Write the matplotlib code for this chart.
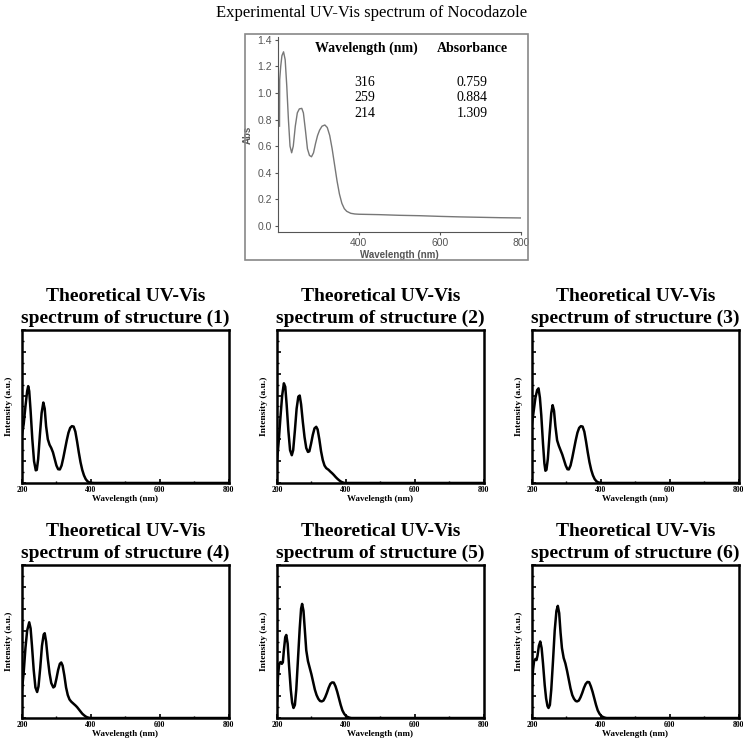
import numpy as np
import matplotlib
matplotlib.use("Agg")
import matplotlib.pyplot as plt
from matplotlib.patches import Rectangle
from matplotlib.ticker import MultipleLocator

plt.rcParams['font.family'] = ['Liberation Serif', 'DejaVu Serif']

# Experimental spectrum
exp_wl = [204, 204.5, 207, 210, 214, 218, 222, 226, 230, 234, 238, 243, 248, 253, 259,
          263, 268, 273, 278, 283, 288, 293, 298, 303, 309, 316, 322, 328, 334, 340,
          346, 352, 358, 364, 370, 380, 390, 400, 450, 500, 550, 600, 650, 700, 750, 800]
exp_abs = [0.75, 1.1, 1.2, 1.28, 1.309, 1.25, 1.05, 0.8, 0.6, 0.55, 0.6, 0.75, 0.85, 0.88, 0.884,
           0.85, 0.72, 0.58, 0.53, 0.52, 0.55, 0.62, 0.68, 0.72, 0.75, 0.759, 0.74, 0.68, 0.58, 0.46,
           0.34, 0.24, 0.17, 0.13, 0.11, 0.095, 0.09, 0.088, 0.085, 0.08, 0.077, 0.072, 0.068, 0.065, 0.062, 0.06]

peak_wl = ["316", "259", "214"]
peak_abs = ["0.759", "0.884", "1.309"]

# Theoretical spectra (arbitrary units)
s1_wl = [200, 205, 210, 215, 218, 221, 225, 230, 235, 240, 243, 247, 252, 257, 262, 266, 270,
         275, 280, 285, 290, 295, 300, 305, 310, 315, 320, 325, 330, 335, 340, 345, 350, 355,
         360, 365, 370, 375, 380, 385, 390, 395, 400, 410, 800]
s1_int = [2.2, 2.7, 3.5, 4.2, 4.43, 4.2, 3.3, 2.0, 1.0, 0.58, 0.6, 1.1, 2.2, 3.2, 3.68, 3.4, 2.6,
          2.0, 1.75, 1.6, 1.4, 1.1, 0.8, 0.63, 0.62, 0.8, 1.15, 1.55, 1.95, 2.3, 2.52, 2.6, 2.58, 2.35,
          1.9, 1.4, 0.95, 0.6, 0.35, 0.18, 0.08, 0.03, 0.01, 0.0, 0.0]

s2_wl = [200, 205, 210, 215, 220, 224, 228, 233, 238, 243, 247, 252, 257, 262, 266, 270, 275,
         280, 285, 290, 294, 299, 304, 309, 314, 318, 323, 328, 333, 338, 343, 350, 355, 360,
         365, 370, 375, 380, 385, 390, 396, 800]
s2_int = [1.0, 1.9, 3.0, 4.0, 4.56, 4.4, 3.6, 2.4, 1.5, 1.27, 1.5, 2.4, 3.4, 3.95, 4.0, 3.6, 2.8,
          2.1, 1.6, 1.42, 1.45, 1.8, 2.2, 2.5, 2.57, 2.45, 2.0, 1.45, 1.05, 0.8, 0.68, 0.6, 0.52, 0.45,
          0.37, 0.28, 0.2, 0.13, 0.07, 0.03, 0.0, 0.0]

s3_wl = [200, 205, 210, 215, 219, 223, 227, 232, 236, 239, 242, 246, 251, 256, 260, 264, 268,
         273, 278, 283, 288, 293, 298, 303, 307, 312, 317, 322, 327, 332, 337, 342, 347, 352,
         357, 362, 367, 372, 377, 382, 387, 392, 398, 405, 800]
s3_int = [2.7, 3.3, 3.9, 4.25, 4.33, 3.9, 3.1, 1.8, 0.9, 0.56, 0.6, 1.1, 2.2, 3.2, 3.56, 3.3, 2.6,
          1.95, 1.7, 1.5, 1.3, 1.05, 0.8, 0.63, 0.62, 0.8, 1.15, 1.55, 1.95, 2.3, 2.52, 2.6, 2.58, 2.35,
          1.9, 1.4, 0.95, 0.6, 0.35, 0.18, 0.08, 0.03, 0.01, 0.0, 0.0]

s4_wl = [200, 205, 210, 215, 221, 225, 229, 234, 239, 244, 248, 253, 258, 263, 266, 270, 275,
         280, 285, 291, 295, 300, 305, 310, 314, 318, 323, 328, 333, 338, 343, 350, 355, 360,
         365, 370, 375, 380, 385, 390, 398, 800]
s4_int = [1.3, 2.1, 3.2, 4.0, 4.38, 4.1, 3.3, 2.2, 1.4, 1.19, 1.45, 2.3, 3.3, 3.82, 3.88, 3.5, 2.7,
          2.05, 1.6, 1.4, 1.45, 1.8, 2.2, 2.48, 2.54, 2.4, 1.95, 1.4, 1.05, 0.85, 0.75, 0.65, 0.58, 0.5,
          0.4, 0.3, 0.2, 0.13, 0.07, 0.03, 0.0, 0.0]

s5_wl = [200, 203, 206, 210, 214, 217, 220, 224, 227, 231, 235, 240, 244, 248, 252, 256, 261,
         266, 270, 273, 277, 281, 285, 290, 295, 300, 305, 310, 315, 320, 325, 330, 335, 340,
         345, 350, 355, 360, 365, 370, 375, 380, 385, 390, 395, 400, 405, 410, 416, 800]
s5_int = [0.8, 1.9, 2.45, 2.56, 2.48, 2.55, 3.1, 3.7, 3.8, 3.4, 2.4, 1.3, 0.7, 0.46, 0.6, 1.3, 2.7,
          4.1, 5.0, 5.22, 4.9, 4.0, 3.1, 2.6, 2.3, 2.0, 1.65, 1.3, 1.05, 0.88, 0.78, 0.76, 0.8, 0.95,
          1.15, 1.38, 1.56, 1.63, 1.62, 1.45, 1.2, 0.9, 0.6, 0.35, 0.2, 0.1, 0.05, 0.02, 0.0, 0.0]

s6_wl = [200, 203, 206, 210, 213, 216, 220, 224, 228, 232, 237, 241, 245, 248, 252, 256, 261,
         266, 271, 275, 279, 283, 287, 292, 297, 302, 307, 312, 317, 322, 327, 331, 336, 341,
         346, 351, 356, 361, 366, 371, 376, 381, 386, 391, 396, 401, 406, 411, 417, 800]
s6_int = [1.45, 2.2, 2.6, 2.7, 2.65, 2.85, 3.3, 3.5, 3.2, 2.5, 1.5, 0.9, 0.55, 0.46, 0.6, 1.3, 2.6,
          4.0, 4.9, 5.13, 4.8, 3.9, 3.2, 2.75, 2.5, 2.15, 1.75, 1.35, 1.05, 0.88, 0.78, 0.76, 0.8, 0.95,
          1.15, 1.38, 1.56, 1.65, 1.64, 1.45, 1.2, 0.9, 0.6, 0.35, 0.2, 0.1, 0.05, 0.02, 0.0, 0.0]

spectra = [(s1_wl, s1_int), (s2_wl, s2_int), (s3_wl, s3_int),
           (s4_wl, s4_int), (s5_wl, s5_int), (s6_wl, s6_int)]
structure_labels = ["(1)", "(2)", "(3)", "(4)", "(5)", "(6)"]

fig = plt.figure(figsize=(7.43, 7.41), dpi=100)

# Title of the experimental panel
fig.text(0.5, 0.982, "Experimental UV-Vis spectrum of Nocodazole", ha="center", va="center",
         fontsize=12)

# Gray frame around the experimental plot
fig.patches.append(Rectangle((0.330, 0.649), 0.380, 0.305, transform=fig.transFigure,
                             fill=False, edgecolor="#888888", linewidth=1.2))

gray = "#555555"
ax = fig.add_axes([0.374, 0.687, 0.327, 0.263])
ax.plot(exp_wl, exp_abs, color="#777777", linewidth=1.0)
ax.set_xlim(200, 800)
ax.set_ylim(-0.045, 1.42)
ax.set_xticks([400, 600, 800])
ax.set_yticks(np.arange(0, 1.41, 0.2))
ax.yaxis.set_major_formatter(matplotlib.ticker.FormatStrFormatter("%.1f"))
for sp in ["top", "right"]:
    ax.spines[sp].set_visible(False)
for sp in ["left", "bottom"]:
    ax.spines[sp].set_color(gray)
    ax.spines[sp].set_linewidth(0.8)
ax.tick_params(colors=gray, labelsize=7.5, length=2.5, width=0.8, pad=2)
for lab in ax.get_xticklabels() + ax.get_yticklabels():
    lab.set_family("Liberation Sans")
ax.set_xlabel("Wavelength (nm)", fontsize=7, family="Liberation Sans", fontweight="bold",
              color=gray, labelpad=1)
ax.set_ylabel("Abs", fontsize=7, family="Liberation Sans", fontweight="bold",
              color=gray, labelpad=3)

# Peak table inside the experimental plot
fig.text(0.4925, 0.935, "Wavelength (nm)", ha="center", va="center", fontsize=10,
         fontweight="bold")
fig.text(0.636, 0.935, "Absorbance", ha="center", va="center", fontsize=10,
         fontweight="bold")
row_y = [0.889, 0.868, 0.847]
for y, w, a in zip(row_y, peak_wl, peak_abs):
    fig.text(0.491, y, w, ha="center", va="center", fontsize=10)
    fig.text(0.635, y, a, ha="center", va="center", fontsize=10)

# Theoretical spectra grid
lefts = [0.0296, 0.3728, 0.716]
bottoms = [0.3482, 0.031]
w, h = 0.278, 0.2065
for i, ((wl, it), lab) in enumerate(zip(spectra, structure_labels)):
    r, c = divmod(i, 3)
    ax = fig.add_axes([lefts[c], bottoms[r], w, h])
    ax.plot(wl, it, color="black", linewidth=1.8)
    ax.set_xlim(200, 800)
    ax.set_ylim(0, 7)
    ax.set_xticks([200, 400, 600, 800])
    ax.xaxis.set_minor_locator(MultipleLocator(100))
    ax.set_yticks(np.arange(0, 7.1, 1))
    ax.yaxis.set_minor_locator(MultipleLocator(0.5))
    ax.set_yticklabels([])
    for sp in ax.spines.values():
        sp.set_linewidth(1.8)
    ax.tick_params(which="major", direction="in", length=3, width=1.2)
    ax.tick_params(which="minor", direction="in", length=1.5, width=1)
    ax.tick_params(axis="x", which="major", labelsize=5.5, pad=2)
    for t in ax.get_xticklabels():
        t.set_fontweight("bold")
    ax.set_xlabel("Wavelength (nm)", fontsize=6.5, fontweight="bold", labelpad=1)
    ax.set_ylabel("Intensity (a.u.)", fontsize=6.8, fontweight="bold", labelpad=3)
    ax.set_title("Theoretical UV-Vis\nspectrum of structure " + lab, fontsize=14,
                 fontweight="bold", pad=5, linespacing=1.38)

fig.savefig("out.png", dpi=100)
